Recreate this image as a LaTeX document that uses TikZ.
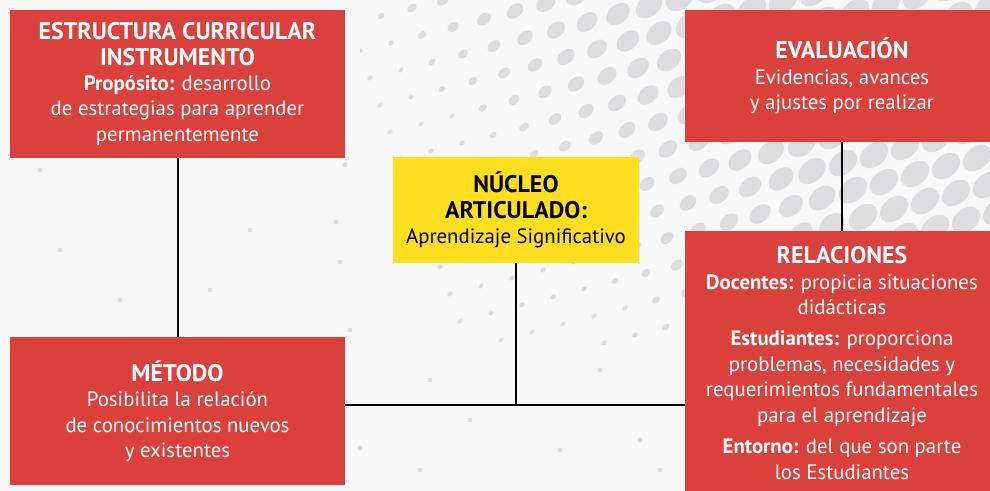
\documentclass[tikz,border=0pt]{standalone}
\usepackage{fontspec}
\setmainfont{PT Sans}
\definecolor{boxred}{HTML}{DA413D}
\definecolor{boxyellow}{HTML}{FFDF1F}
\definecolor{bgc}{HTML}{F8F8F8}
\definecolor{dotc}{HTML}{DEDEE0}
\newcommand{\ttl}[1]{{\fontsize{18}{21.75}\bfseries #1}}
\begin{document}
\begin{tikzpicture}[x=0.75pt,y=-0.75pt,
  body/.style={font=\fontsize{15.6}{19.1}\selectfont, align=center, inner sep=0pt},
  redbox/.style={body, fill=boxred, text=white},
  yellowbox/.style={body, fill=boxyellow, text=black},
  link/.style={draw=black, line width=1.5pt}]
\useasboundingbox (0,0) rectangle (990,491);
\fill[bgc] (0,0) rectangle (990,491);
% halftone dots
\begin{scope}
\clip (360,0) rectangle (990,345);
\foreach \i in {0,...,24}{\foreach \j in {0,...,18}{
  \pgfmathsetmacro\px{330+\i*31+\j*10}
  \pgfmathsetmacro\py{-30+\j*27-\i*8}
  \pgfmathsetmacro\rr{min(max(10+0.028*(\px-647)-0.025*(\py-17),2.1),11)}
  \fill[dotc, rotate around={40:(\px,\py)}] (\px,\py) ellipse [x radius=\rr*1.45, y radius=\rr];
}}
\end{scope}
\foreach \p in {(155,18),(40,170),(120,300),(345,165),(336,222),(340,262),(350,330),(300,40),(250,230),(60,250),(150,420),(90,350),(360,448),(430,380),(470,420),(600,370),(640,440),(660,470),(420,470),(30,470),(210,290),(560,450)}{
  \fill[dotc] \p circle [radius=2.4];
}
% boxes
\node[redbox, minimum width=251.25pt, minimum height=111pt] (estr) at (177.5,84)
  {\ttl{ESTRUCTURA CURRICULAR}\\
   \ttl{INSTRUMENTO}\\
   \textbf{Propósito:} desarrollo\\
   de estrategias para aprender\\
   permanentemente};
\node[redbox, minimum width=235.5pt, minimum height=99pt] (eval) at (842,76)
  {\ttl{EVALUACIÓN}\\
   Evidencias, avances\\
   y ajustes por realizar};
\node[yellowbox, minimum width=184.5pt, minimum height=79.5pt] (nucleo) at (516,210)
  {\ttl{NÚCLEO}\\
   \ttl{ARTICULADO:}\\
   Aprendizaje Significativo};
\node[redbox, minimum width=251.25pt, minimum height=111pt] (metodo) at (177.5,411)
  {\ttl{MÉTODO}\\
   Posibilita la relación\\
   de conocimientos nuevos\\
   y existentes};
\node[redbox, minimum width=235.5pt, minimum height=198pt] (rel) at (842,363)
  {\ttl{RELACIONES}\\
   \textbf{Docentes:} propicia situaciones\\
   didácticas\\[4.5pt]
   \textbf{Estudiantes:} proporciona\\
   problemas, necesidades y\\
   requerimientos fundamentales\\
   para el aprendizaje\\[4.5pt]
   \textbf{Entorno:} del que son parte\\
   los Estudiantes};
% connectors
\coordinate (j) at (516,405);
\draw[link] (estr.south) -- (metodo.north);
\draw[link] (eval.south) -- (rel.north);
\draw[link] (nucleo.south) -- (j);
\draw[link] (metodo.east |- j) -- (rel.west |- j);
\end{tikzpicture}
\end{document}
